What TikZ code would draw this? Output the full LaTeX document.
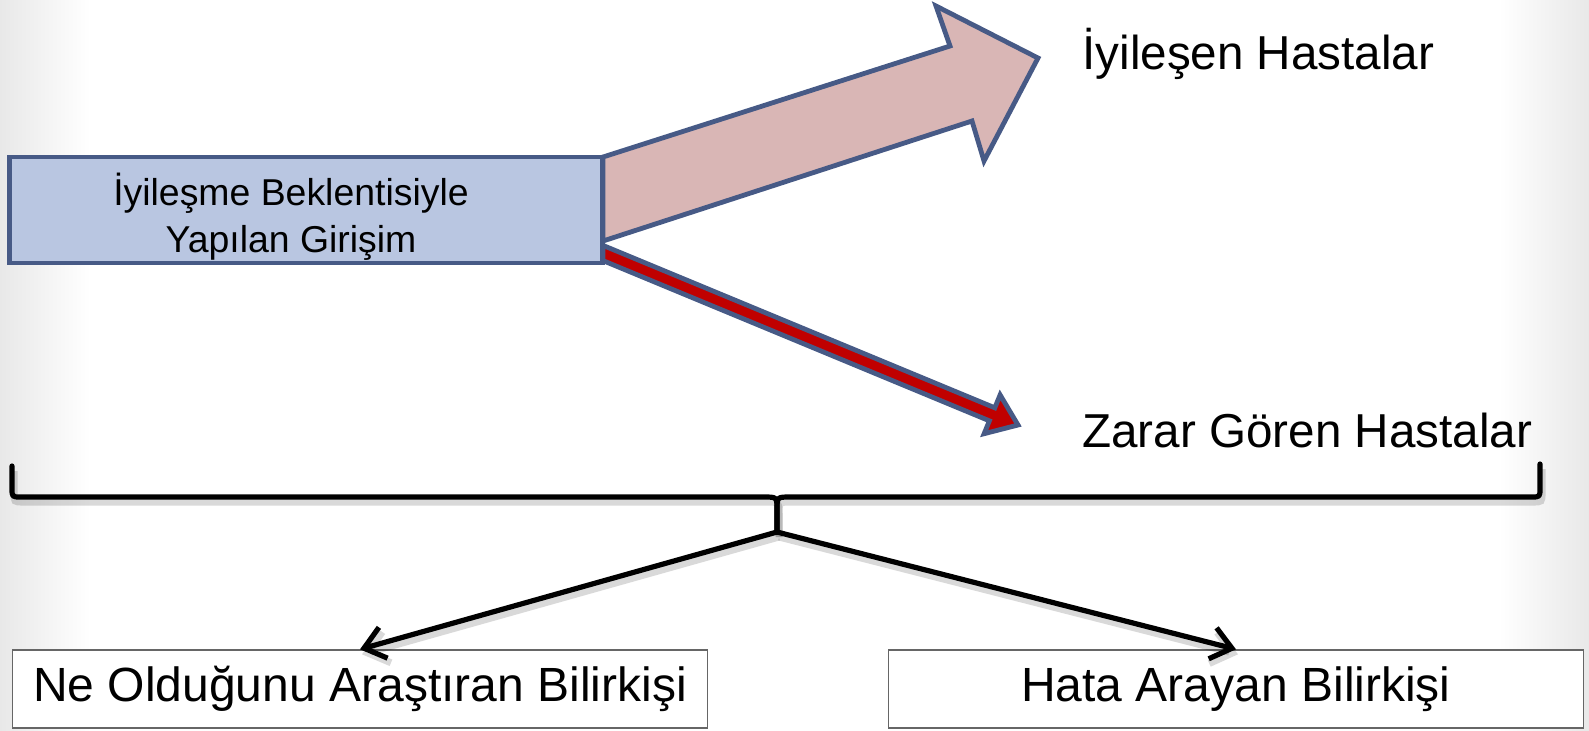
\documentclass[tikz,border=0pt]{standalone}
\usepackage{fontspec}
\setmainfont{Liberation Sans}
\usetikzlibrary{positioning}
\usetikzlibrary{arrows.meta}
\definecolor{boxblue}{HTML}{B9C6E1}
\definecolor{rimblue}{HTML}{475A86}
\definecolor{arrowpink}{HTML}{D9B6B5}
\definecolor{deepred}{HTML}{C00000}
\tikzset{
    startbox/.style = {rectangle, line width=2.4pt, draw=rimblue, fill=boxblue, minimum width=296.5pt, minimum height=53pt},
    starttext/.style = {align=center, inner sep=0pt, font=\fontsize{18.7}{23.5}\selectfont},
    outcome/.style = {anchor=base west, inner sep=0pt, font=\fontsize{23.8}{28}\selectfont},
    expert/.style = {rectangle, draw=gray!80!black, line width=0.7pt, fill=white, minimum width=347.5pt, minimum height=39pt, font=\fontsize{24}{28}\selectfont},
    blockarrow/.style = {line width=2.4pt, draw=rimblue, line join=miter},
    bracen/.style = {line width=2.6pt, black, line cap=round, line join=round},
    edgek/.style = {-{Straight Barb[length=10pt,width=16pt]}, line width=2.6pt, black},
    softshadow/.style = {preaction={draw=black, opacity=0.15, line width=3.5pt, transform canvas={xshift=1pt,yshift=-2.5pt}}}
}
\begin{document}
\begin{tikzpicture}[x=0.5pt,y=-0.5pt]
\useasboundingbox (0,0) rectangle (1589,730);
% grey edges of the slide
\shade[left color=black!9, right color=white] (0,0) rectangle (90,730);
\shade[left color=white, right color=black!9] (1499,0) rectangle (1589,730);
%
\node[startbox] at (306,210) (girisim) {};
\node[starttext] at (291,217) (girisimtxt) {İyileşme Beklentisiyle\\Yapılan Girişim};
\node[outcome] at (1082,69) (iyi) {İyileşen Hastalar};
\node[outcome] at (1082,447) (zarar) {Zarar Gören Hastalar};
\node[expert] at (360,689) (ne) {Ne Olduğunu Araştıran Bilirkişi};
\node[expert] at (1236,689) (hata) {Hata Arayan Bilirkişi};
\coordinate (tip) at (777,532);
%
% wide arrow (healed) and thin arrow (harmed)
\draw[blockarrow, fill=arrowpink] (603,157) -- (950,46) -- (936,6) -- (1038,58) -- (984,161) -- (972,121) -- (603,241) -- cycle;
\draw[blockarrow, fill=deepred] (603,245.4) -- (994.8,407.8) -- (1000.1,394.9) -- (1018,425) -- (984.1,433.7) -- (989.4,420.8) -- (603,260.6) -- cycle;
%
% brace under both outcomes
\draw[bracen, softshadow] (12,466) -- (12,488) .. controls (12,497) .. (21,497) -- (764,497) .. controls (777,497) .. (777,510) -- (tip);
\draw[bracen, softshadow] (tip) -- (777,510) .. controls (777,497) .. (790,497) -- (1531,497) .. controls (1540,497) .. (1540,488) -- (1540,464);
%
\draw[edgek, softshadow] (tip) -- (ne.north);
\draw[edgek, softshadow] (tip) -- (hata.north);

\end{tikzpicture}
\end{document}
